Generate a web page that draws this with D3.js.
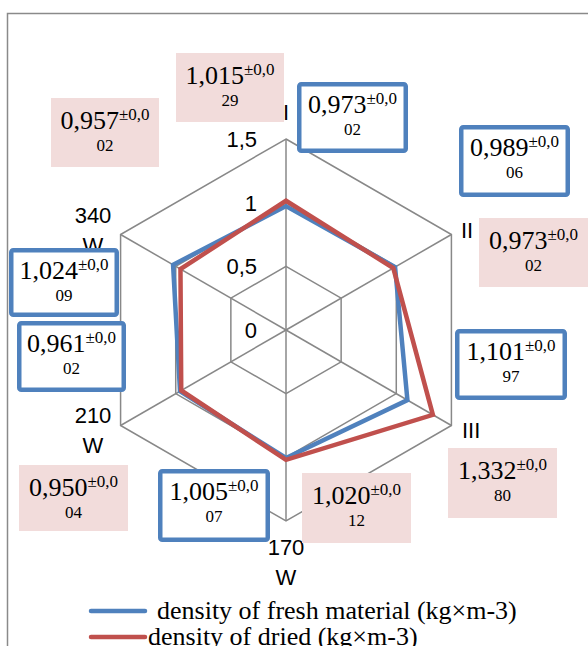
<!DOCTYPE html>
<html><head><meta charset="utf-8">
<script src="https://cdn.jsdelivr.net/npm/d3@7"></script>
<style>html,body{margin:0;padding:0;background:#fff;overflow:hidden}</style>
</head><body>
<svg id="c" width="588" height="646"></svg>
<script>
// ---- data ----
const categories = ["I", "II", "III", "170\nW", "210\nW", "340\nW"];
const freshValues = [0.973, 0.989, 1.101, 1.005, 0.961, 1.024];
const freshErrors = [0.002, 0.006, 0.097, 0.007, 0.002, 0.009];
const driedValues = [1.015, 0.973, 1.332, 1.020, 0.950, 0.957];
const driedErrors = [0.029, 0.002, 0.080, 0.012, 0.004, 0.002];
const tickValues = [0, 0.5, 1, 1.5];
const seriesNames = ["density of fresh material (kg×m-3)", "density of dried (kg×m-3)"];

// ---- layout ----
const cx = 286, cy = 330, R = 191;
const blue = "#4F81BD", red = "#C0504D", pink = "#F2DCDB", grid = "#888888";
const freshBoxes = [[297,82,111,71],[459,125,111,72],[455,329,112,71],[158,469,112,73],[17,321,109,71],[9,248,110,69]];
const driedBoxes = [[176,53,108,69],[479,218,109,69],[448,448,109,70],[302,473,109,70],[19,465,109,66],[51,98,108,69]];

const svg = d3.select("#c");
const r = d3.scaleLinear().domain([0, 1.5]).range([0, R]);
const ang = d3.scaleLinear().domain([0, categories.length]).range([0, 2 * Math.PI]);
const pt = (i, v) => [cx + r(v) * Math.sin(ang(i)), cy - r(v) * Math.cos(ang(i))];

// plot area border
svg.append("rect").attr("x", 7.5).attr("y", 13.5).attr("width", 700).attr("height", 800)
  .attr("fill", "none").attr("stroke", "#8a8a8a").attr("stroke-width", 1.5);

// grid rings
const gridG = svg.append("g").attr("fill", "none").attr("stroke", grid).attr("stroke-width", 1.5);
tickValues.filter(t => t > 0).forEach(t => {
  gridG.append("path").attr("d", d3.line()(categories.map((c, i) => pt(i, t))) + "Z");
});
categories.forEach((c, i) => {
  gridG.append("line").attr("x1", cx).attr("y1", cy)
    .attr("x2", pt(i, 1.5)[0]).attr("y2", pt(i, 1.5)[1]);
});

// tick labels
const fmt = v => String(v).replace(".", ",");
svg.append("g").selectAll("text").data(tickValues).join("text")
  .attr("x", 257).attr("y", d => cy - r(d) + 8)
  .attr("text-anchor", "end")
  .attr("font-family", "Liberation Sans, Arial, sans-serif").attr("font-size", 22)
  .attr("fill", "#000").text(d => fmt(d));

// axis labels
const labelPos = [
  {x: 286, y: 120, anchor: "middle"},
  {x: 461, y: 238, anchor: "start"},
  {x: 462, y: 438, anchor: "start"},
  {x: 286, y: 555, anchor: "middle"},
  {x: 93, y: 423, anchor: "middle"},
  {x: 93, y: 223, anchor: "middle"}
];
categories.forEach((c, i) => {
  const t = svg.append("text").attr("font-family", "Liberation Sans, Arial, sans-serif")
    .attr("font-size", 22).attr("fill", "#000").attr("text-anchor", labelPos[i].anchor);
  c.split("\n").forEach((line, j) => {
    t.append("tspan").attr("x", labelPos[i].x).attr("y", labelPos[i].y + j * 30).text(line);
  });
});

// series
[[freshValues, blue], [driedValues, red]].forEach(([vals, col]) => {
  svg.append("path")
    .attr("d", d3.line()(vals.map((v, i) => pt(i, v))) + "Z")
    .attr("fill", "none").attr("stroke", col).attr("stroke-width", 4.5)
    .attr("stroke-linejoin", "miter");
});

// annotation boxes
function box(b, val, err, isFresh) {
  const [x, y, w, h] = b;
  const g = svg.append("g");
  if (isFresh) {
    g.append("rect").attr("x", x + 2.25).attr("y", y + 2.25).attr("width", w - 4.5).attr("height", h - 4.5)
      .attr("rx", 2).attr("fill", "#fff").attr("stroke", blue).attr("stroke-width", 4.5);
  } else {
    g.append("rect").attr("x", x).attr("y", y).attr("width", w).attr("height", h).attr("fill", pink);
  }
  const e = d3.format(".3f")(err).replace(".", ",");
  const t = g.append("text").attr("font-family", "Liberation Serif, Times New Roman, serif")
    .attr("text-anchor", "middle").attr("fill", "#000")
    .attr("x", x + w / 2).attr("y", y + 30.5);
  t.append("tspan").attr("font-size", 26).text(d3.format(".3f")(val).replace(".", ","));
  t.append("tspan").attr("font-size", 17).attr("dy", -9).text("±" + e.slice(0, 3));
  g.append("text").attr("font-family", "Liberation Serif, Times New Roman, serif")
    .attr("text-anchor", "middle").attr("font-size", 17).attr("fill", "#000")
    .attr("x", x + w / 2).attr("y", y + 53).text(e.slice(3));
}
freshValues.forEach((v, i) => box(freshBoxes[i], v, freshErrors[i], true));
driedValues.forEach((v, i) => box(driedBoxes[i], v, driedErrors[i], false));

// legend
[[blue, 611, 157, 619], [red, 637, 148, 645]].forEach(([col, ly, tx, ty], i) => {
  svg.append("line").attr("x1", 91).attr("x2", 145).attr("y1", ly).attr("y2", ly)
    .attr("stroke", col).attr("stroke-width", 4.5).attr("stroke-linecap", "round");
  svg.append("text").attr("x", tx).attr("y", ty)
    .attr("font-family", "Liberation Serif, Times New Roman, serif").attr("font-size", 26)
    .attr("fill", "#000").text(seriesNames[i]);
});
</script>
</body></html>
